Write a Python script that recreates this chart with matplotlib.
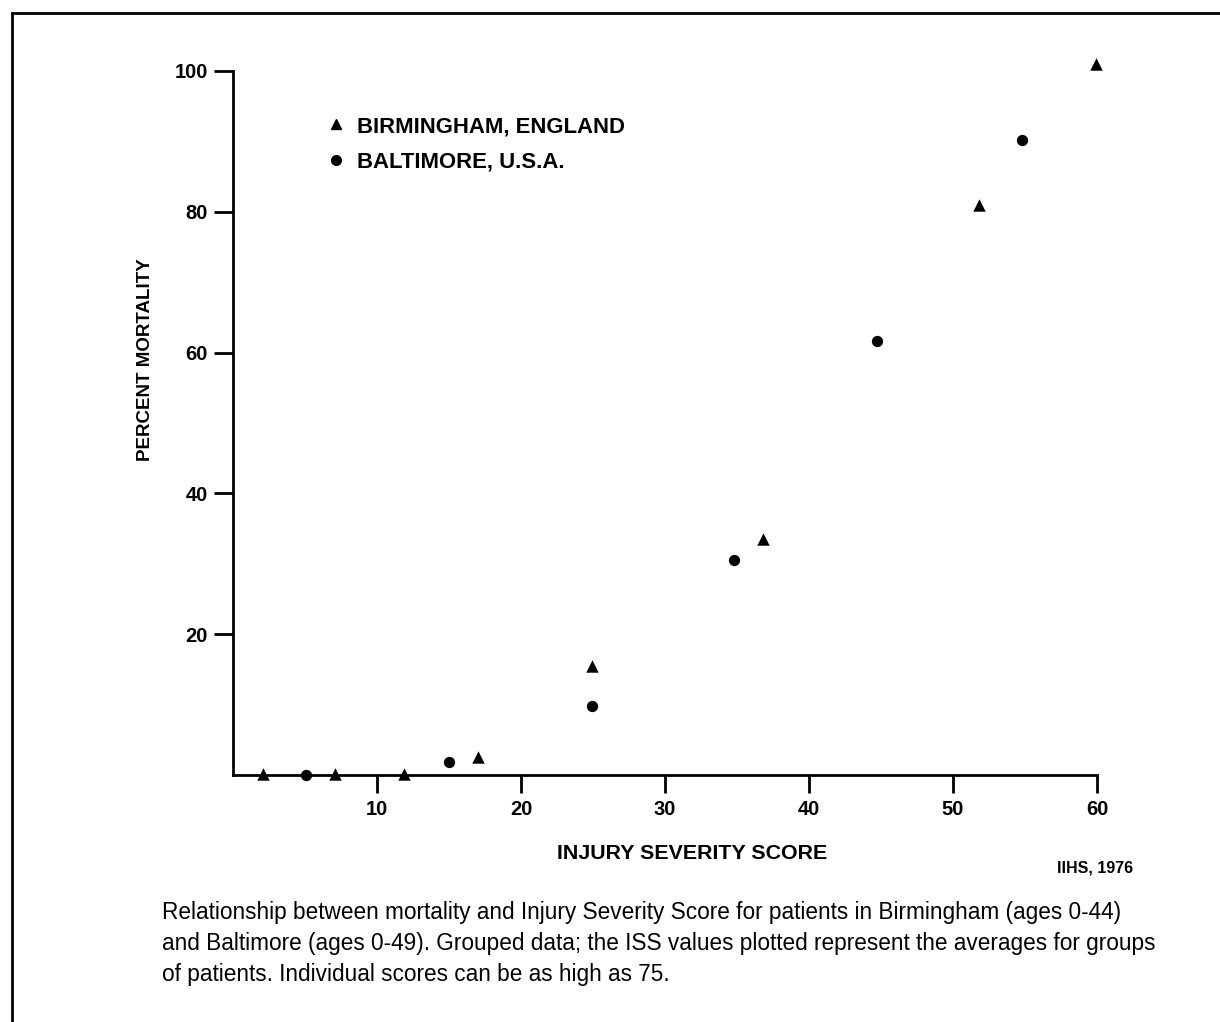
import matplotlib
matplotlib.use("Agg")
import matplotlib.pyplot as plt
from matplotlib.lines import Line2D

# Data
birmingham_iss = [2.1, 7.1, 11.9, 17.0, 24.9, 36.8, 51.8, 59.9]
birmingham_mort = [0.2, 0.2, 0.2, 2.6, 15.5, 33.5, 81, 101]
baltimore_iss = [5.1, 15.0, 24.9, 34.8, 44.7, 54.8]
baltimore_mort = [0.0, 1.8, 9.8, 30.6, 61.6, 90.2]
x_ticks = [10, 20, 30, 40, 50, 60]
y_ticks = [20, 40, 60, 80, 100]
legend_labels = ["BIRMINGHAM, ENGLAND", "BALTIMORE, U.S.A."]
caption_lines = [
    "Relationship between mortality and Injury Severity Score for patients in Birmingham (ages 0-44)",
    "and Baltimore (ages 0-49). Grouped data; the ISS values plotted represent the averages for groups",
    "of patients. Individual scores can be as high as 75.",
]

W, H = 1220, 1022
fig = plt.figure(figsize=(W / 100, H / 100), dpi=100)
bold = dict(family="Liberation Sans", weight="bold")

ax = fig.add_axes([233 / W, 1 - 775 / H, (1097 - 233) / W, (775 - 71) / H])
ax.set_xlim(0, 60)
ax.set_ylim(0, 100)
for s in ["top", "right"]:
    ax.spines[s].set_visible(False)
for s in ["left", "bottom"]:
    ax.spines[s].set_linewidth(2)
    ax.spines[s].set_color("black")

ax.scatter(birmingham_iss, birmingham_mort, marker="^", s=80, color="black", clip_on=False, zorder=3, linewidths=0)
ax.scatter(baltimore_iss, baltimore_mort, marker="o", s=66, color="black", clip_on=False, zorder=3, linewidths=0)

ax.set_xticks(x_ticks)
ax.set_yticks(y_ticks)
ax.set_xticklabels([str(v) for v in x_ticks], **bold, fontsize=14.5)
ax.set_yticklabels([str(v) for v in y_ticks], **bold, fontsize=14.5)
ax.tick_params(axis="x", direction="out", length=13, width=2, pad=5)
ax.tick_params(axis="y", direction="out", length=14, width=2, pad=4)

# legend
handles = [Line2D([], [], marker="^", color="black", linestyle="none", markersize=7),
           Line2D([], [], marker="o", color="black", linestyle="none", markersize=7)]
leg = ax.legend(handles, legend_labels, loc="upper left",
                bbox_to_anchor=((325 - 233) / (1097 - 233), (775 - 116) / (775 - 71)),
                frameon=False, prop=dict(family="Liberation Sans", weight="bold", size=15.9),
                handletextpad=0.45, labelspacing=0.65, handlelength=1.0, borderpad=0, borderaxespad=0)

fig.text(145 / W, 1 - 360 / H, "PERCENT MORTALITY", rotation=90, ha="center", va="center", fontsize=13.5, **bold)
fig.text(692 / W, 1 - 853 / H, "INJURY SEVERITY SCORE", ha="center", va="center", fontsize=15.4, **bold)
fig.text(1133 / W, 1 - 868 / H, "IIHS, 1976", ha="right", va="center", fontsize=11.5, **bold)
for line, yb in zip(caption_lines, [919, 950, 981]):
    fig.text(162 / W, 1 - yb / H, line, ha="left", va="baseline", fontsize=16.3, family="Liberation Sans")

# page frame
fig.add_artist(Line2D([12 / W, 12 / W], [0, 1 - 13 / H], color="black", lw=2))
fig.add_artist(Line2D([12 / W, 1], [1 - 13 / H, 1 - 13 / H], color="black", lw=2))

fig.savefig("out.png", dpi=100)
